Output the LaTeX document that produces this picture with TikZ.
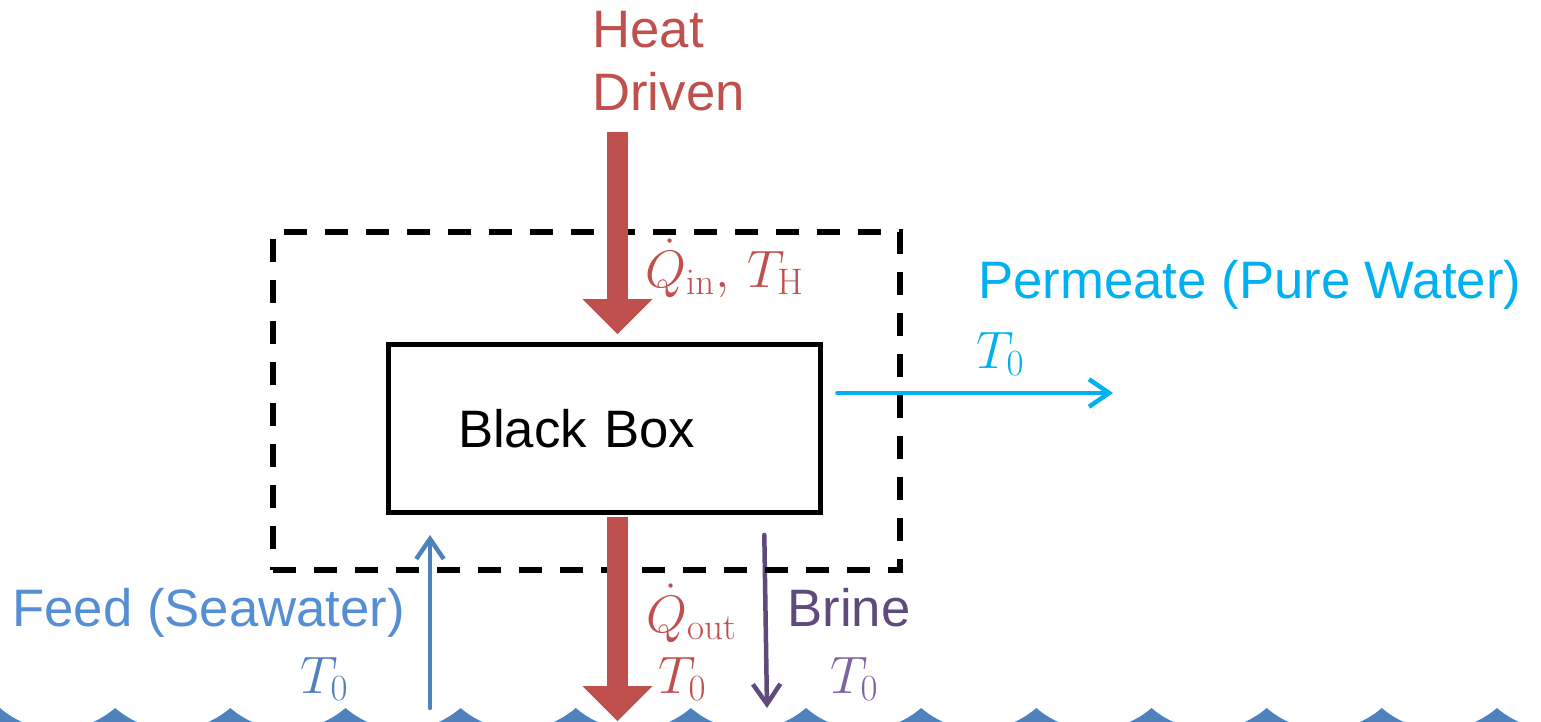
\RequirePackage{fix-cm}
\documentclass[tikz,border=0pt]{standalone}
\usepackage[no-math]{fontspec}
\setmainfont{Liberation Sans}
\usetikzlibrary{arrows.meta,positioning,calc}
\definecolor{HeatRed}{HTML}{C0504D}
\definecolor{PermCyan}{HTML}{00B0F0}
\definecolor{FeedBlue}{HTML}{558ED5}
\definecolor{SeaBlue}{HTML}{4F81BD}
\definecolor{BrinePurple}{HTML}{604A7B}
\definecolor{SoftPurple}{HTML}{8064A2}
\tikzset{
 lbl/.style={inner sep=0pt, anchor=base west, font=\fontsize{30}{36}\selectfont},
 blackbox/.style={draw, line width=0.1cm, fill=white, minimum width=8.64cm, minimum height=3.36cm, inner xsep=1.39cm, text width=5.86cm, align=left, font=\fontsize{30}{36}\selectfont},
 cvbox/.style={draw, line width=0.11cm, dash pattern=on 0.46cm off 0.36cm, minimum width=12.54cm, minimum height=6.76cm},
 flow/.style={line width=0.09cm, line cap=round, line join=round, -{Straight Barb[length=0.4cm,width=0.55cm]}},
 heatflow/.style={draw=HeatRed, line width=0.42cm, -{Triangle[length=0.7cm,width=1.4cm,line width=0pt]}},
 wave/.style={fill=SeaBlue}
}

\begin{document}
\begin{tikzpicture}[x=0.02cm, y=-0.02cm]
\useasboundingbox (0,0) rectangle (1541,721);

% sea surface
\begin{scope}
\clip (0,0) rectangle (1541,721);
\fill[wave] (0,708) \foreach \k in {0,...,13}{ .. controls ({115.15*\k+33.1},736.7) and ({115.15*\k+82.05},736.7) .. ({115.15*(\k+1)},708) } -- (1620,760) -- (0,760) -- cycle;
\end{scope}

% black box
\node[blackbox] (bb) at (604.5,428.5) {Black Box};

% free ends
\coordinate (hx) at (617.5,0);
\coordinate (feedsrc) at (430,708);
\coordinate (brinesink) at (767,708);
\coordinate (perm) at (1113,393);
\coordinate (qsink) at (617.5,721);

% stream labels
\node[lbl, anchor=north west, align=left, text=HeatRed] (heat) at (592,11) {Heat\\Driven};
\node[lbl, text=HeatRed] (qin) at (645,287) {$\dot{Q}_{\mathrm{in}},\,T_{\mathrm{H}}$};
\node[lbl, text=HeatRed] (qout) at (646,632) {$\dot{Q}_{\mathrm{out}}$};
\node[lbl, text=HeatRed] (tout) at (658,693) {$T_0$};
\node[lbl, text=PermCyan] (permtxt) at (978,298) {Permeate (Pure Water)};
\node[lbl, text=PermCyan] (tperm) at (976,368) {$T_0$};
\node[lbl, text=FeedBlue] (feed) at (12,626) {Feed (Seawater)};
\node[lbl, text=SeaBlue] (tfeed) at (300,693) {$T_0$};
\node[lbl, text=BrinePurple] (brine) at (787,626) {Brine};
\node[lbl, text=SoftPurple] (tbrine) at (830,693) {$T_0$};

% mass flows
\draw[flow, SeaBlue, shorten >=0.4cm] (feedsrc) -- (feedsrc |- bb.south);
\draw[flow, BrinePurple, shorten <=0.4cm] (bb.south -| 764,0) -- (brinesink);
\draw[flow, PermCyan, shorten <=0.29cm] (bb.east |- perm) -- (perm);

% control volume
\node[cvbox] (cv) at (586.5,401) {};

% heat flows
\draw[heatflow, shorten >=0.16cm] ($(heat.south -| hx)+(0,20)$) -- (bb.north -| hx);
\draw[heatflow, shorten <=0.05cm] (bb.south -| hx) -- (qsink);
\end{tikzpicture}
\end{document}
